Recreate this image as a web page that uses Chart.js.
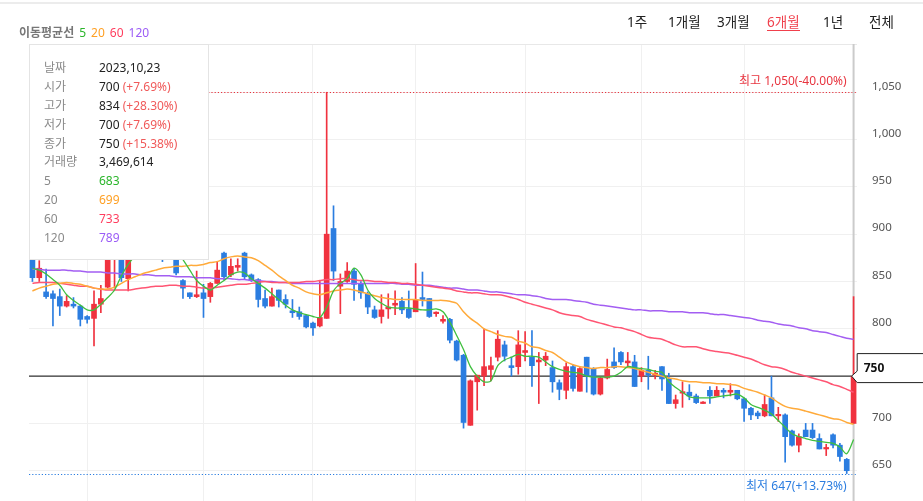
<!DOCTYPE html>
<html lang="ko">
<head>
<meta charset="utf-8">
<title>주가 차트 6개월</title>
<script src="https://cdn.jsdelivr.net/npm/chart.js@4.4.0/dist/chart.umd.min.js"></script>
<style>
  html,body{margin:0;padding:0;background:#fff;}
  body{width:923px;height:501px;overflow:hidden;position:relative;font-family:"Noto Sans","Noto Sans CJK KR",sans-serif;}
  #chart{position:absolute;left:0;top:0;}
  #topLine{position:absolute;left:0;top:2px;width:923px;height:2px;background:#ececec;}
  #maLegend{position:absolute;left:19px;top:24px;font-size:12px;line-height:18px;color:#777;font-weight:bold;white-space:nowrap;}
  #maLegend span{font-weight:normal;margin-left:5px;}
  .period{position:absolute;top:14px;font-size:13.5px;line-height:16px;color:#222;white-space:nowrap;}
  .period.on{color:#f0404c;border-bottom:1px solid #f0404c;}
  #tip{position:absolute;left:29px;top:44px;width:178px;height:200px;border:1px solid #e4e4e4;background:#fff;padding-top:14px;box-sizing:content-box;}
  #tip .row{position:relative;height:18.9px;line-height:18.9px;font-size:12px;white-space:nowrap;}
  #tip .k{position:absolute;left:14px;color:#8a8a8a;}
  #tip .v{position:absolute;left:69px;color:#222;}
  #tip .p{color:#f05a5a;}
</style>
</head>
<body>
<canvas id="chart" width="923" height="501"></canvas>
<div id="topLine"></div>
<div id="maLegend">이동평균선<span style="color:#2bb52b">5</span><span style="color:#ffa024">20</span><span style="color:#ff3d5e">60</span><span style="color:#9b5cf6">120</span></div>
<span class="period" style="left:627px">1주</span>
<span class="period" style="left:668px">1개월</span>
<span class="period" style="left:717px">3개월</span>
<span class="period on" style="left:767px">6개월</span>
<span class="period" style="left:823px">1년</span>
<span class="period" style="left:869px">전체</span>
<div id="tip"></div>
<script>
// trading days shown (6 months)
const tradingDays = [
  ['2023.04', [24,25,26,27,28]],
  ['2023.05', [2,3,4,8,9,10,11,12,15,16,17,18,19,22,23,24,25,26,30,31]],
  ['2023.06', [1,2,5,7,8,9,12,13,14,15,16,19,20,21,22,23,26,27,28,29,30]],
  ['2023.07', [3,4,5,6,7,10,11,12,13,14,17,18,19,20,21,24,25,26,27,28,31]],
  ['2023.08', [1,2,3,4,7,8,9,10,11,14,16,17,18,21,22,23,24,25,28,29,30,31]],
  ['2023.09', [1,4,5,6,7,8,11,12,13,14,15,18,19,20,21,22,25,26,27]],
  ['2023.10', [4,5,6,10,11,12,13,16,17,18,19,20,23]]
];
const gridDates = ['2023.05.08','2023.06.01','2023.06.26','2023.07.17','2023.08.08','2023.09.01','2023.09.22'];
const yTicks = [650,700,750,800,850,900,950,1000,1050];

const opens = [875,854,839,837,834,824,826,824,813,811,826,844,876,885,853,880,885,892,896,895,
  890,880,851,838,834,838,834,848,880,857,865,880,857,852,832,824,841,831,819,818,
  814,806,803,811,906,845,850,861,847,837,820,813,821,825,829,821,818,833,832,816,
  808,810,787,772,698,744,750,757,770,783,761,760,775,770,765,767,759,743,735,760,
  734,770,758,731,748,765,775,764,765,750,756,751,760,747,721,732,733,729,721,735,
  729,735,733,735,726,716,711,708,727,708,709,692,677,693,693,684,673,688,677,662,700];
const highs = [882,872,863,840,842,835,833,825,814,840,846,888,895,890,886,890,898,905,900,898,
  893,884,852,838,861,847,849,871,881,874,874,881,858,853,841,843,841,836,831,823,
  815,807,850,1050,930,858,870,864,850,839,824,836,837,840,833,840,869,860,832,818,
  814,811,788,773,746,751,800,770,798,787,770,798,797,798,775,775,766,746,764,762,
  759,770,759,749,768,780,776,775,772,759,771,756,760,753,730,744,741,731,723,739,
  739,737,742,735,727,717,713,730,750,717,710,693,689,700,700,689,678,689,679,663,834];
const lows = [850,850,832,803,814,823,822,803,806,782,817,843,843,850,840,876,880,886,882,871,
  878,857,832,832,833,812,828,848,852,855,861,852,850,823,822,824,823,822,812,810,
  801,793,802,811,851,816,849,830,832,816,811,806,811,815,816,811,818,824,812,813,
  806,785,766,695,698,714,740,745,766,766,750,752,766,739,721,761,733,725,726,734,
  734,733,730,730,747,758,762,760,739,744,736,747,735,721,716,717,725,721,721,721,
  729,727,729,725,702,704,705,707,708,702,659,676,670,686,684,673,666,674,660,647,700];
const closes = [854,864,834,832,824,829,824,810,810,826,832,880,888,854,880,885,892,896,888,890,
  885,859,843,834,836,832,848,862,855,866,867,855,851,831,824,834,830,826,817,813,
  802,801,812,900,861,850,861,847,838,823,812,820,823,827,820,812,831,831,813,817,
  810,788,767,701,745,751,760,761,789,771,759,783,777,761,767,771,744,736,760,737,
  758,750,731,748,757,759,765,766,739,756,751,753,747,721,725,733,729,722,722,729,
  735,733,735,726,716,709,708,720,708,709,686,677,686,686,685,673,674,677,665,650,750];
const lastVolume = 3469614;

// moving averages
const ma5 = [864,862,858,852,846,836,830,825,820,820,826,833,841,856,868,877,880,881,888,890,
  890,884,873,862,851,845,841,846,851,857,860,859,853,848,843,837,831,825,820,817,
  815,813,812,823,840,848,853,864,857,841,832,827,823,822,822,822,821,820,820,821,
  818,807,793,778,760,750,744,745,761,767,770,773,771,771,770,765,760,757,755,754,
  753,750,749,749,749,750,754,760,759,758,757,755,754,744,738,733,728,727,727,727,
  728,729,730,731,727,720,717,714,710,703,696,689,686,684,682,681,680,679,675,668,683];
const ma20 = [840,843,845,847,848,849,848,847,845,843,842,842,844,848,852,855,858,860,862,864,
  865,866,866,867,867,868,870,871,874,876,877,876,875,872,867,862,856,851,846,843,
  839,837,836,838,840,841,842,841,839,837,835,833,832,831,831,831,831,830,830,830,
  830,829,827,818,811,806,800,797,794,792,791,787,785,781,780,777,775,770,765,762,
  760,759,758,759,759,760,760,759,758,756,754,752,750,748,747,745,744,744,743,743,
  742,742,741,740,737,735,733,730,727,722,718,716,715,713,711,709,707,705,704,701,699];
const ma60 = [848,849,849,849,848,847,846,845,845,843,842,841,841,841,841,842,843,844,845,845,
  846,846,845,845,844,843,843,844,845,846,847,847,848,849,850,849,849,849,849,849,
  850,850,851,852,852,853,853,852,851,851,850,850,849,849,848,848,847,846,845,844,
  843,842,840,839,838,838,837,836,836,835,833,831,828,826,824,822,820,817,815,814,
  813,810,808,806,804,802,801,799,797,794,791,790,789,786,783,781,781,781,779,777,
  776,775,774,772,770,768,765,762,760,759,757,754,752,750,748,746,744,741,739,736,733];
const ma120 = [863,863,862,862,862,862,861,861,860,860,860,859,859,858,858,858,857,857,856,856,
  856,855,855,855,854,854,854,853,853,853,852,852,851,851,850,850,849,849,848,848,
  848,848,848,848,848,848,848,848,848,848,848,848,848,848,847,847,846,846,846,845,
  844,843,843,842,841,841,840,839,839,838,837,836,836,835,834,832,831,831,831,830,
  829,828,826,825,824,823,822,821,820,820,819,819,819,818,818,818,817,817,817,816,
  815,815,814,813,812,811,809,808,807,805,804,803,801,800,798,797,796,794,792,790,789];

const dates = tradingDays.flatMap(([m, ds]) => ds.map(d => m + '.' + String(d).padStart(2, '0')));
const upColor = '#f0323f';
const downColor = '#2b7de0';
const maColors = ['#3fbf3f', '#ffaa3a', '#ff5573', '#a35ef2'];
const candleColors = closes.map((c, i) => c >= opens[i] ? upColor : downColor);
const last = closes.length - 1;

const hiVal = Math.max(...highs);
const loVal = Math.min(...lows);
const fromLast = v => {
  const p = Math.trunc((closes[last] - v) / closes[last] * 10000) / 100;
  return (p > 0 ? '+' : '') + p.toFixed(2) + '%';
};

// crosshair, high/low markers and price tag
const overlay = {
  id: 'overlay',
  beforeDatasetsDraw(chart) {
    const {ctx, chartArea: a, scales: {x, y}} = chart;
    const lx = x.getPixelForValue(last);
    const ly = y.getPixelForValue(closes[last]);
    ctx.save();
    ctx.strokeStyle = '#e8e8e8';
    ctx.lineWidth = 1;
    ctx.beginPath(); ctx.moveTo(a.left, a.top + 0.5); ctx.lineTo(a.right, a.top + 0.5); ctx.stroke();

    ctx.lineWidth = 1.2;
    ctx.setLineDash([1.2, 2]);
    ctx.strokeStyle = '#e8343f';
    const hy = Math.round(y.getPixelForValue(hiVal)) + 0.5;
    ctx.beginPath(); ctx.moveTo(a.left, hy); ctx.lineTo(a.right, hy); ctx.stroke();
    ctx.strokeStyle = '#2b7de0';
    const wy = Math.round(y.getPixelForValue(loVal)) + 0.5;
    ctx.beginPath(); ctx.moveTo(a.left, wy); ctx.lineTo(a.right, wy); ctx.stroke();
    ctx.setLineDash([]);

    ctx.strokeStyle = '#cbcbcb';
    ctx.lineWidth = 2;
    ctx.beginPath(); ctx.moveTo(lx, a.top); ctx.lineTo(lx, a.bottom); ctx.stroke();
    ctx.strokeStyle = '#333';
    ctx.lineWidth = 1.3;
    ctx.beginPath(); ctx.moveTo(a.left, ly); ctx.lineTo(lx, ly); ctx.stroke();
    ctx.restore();
  },
  afterDraw(chart) {
    const {ctx, scales: {x, y}} = chart;
    const lx = x.getPixelForValue(last);
    const ly = y.getPixelForValue(closes[last]);
    ctx.save();
    ctx.font = '12px "Noto Sans", "Noto Sans CJK KR", sans-serif';
    ctx.textAlign = 'right';
    ctx.textBaseline = 'middle';
    ctx.fillStyle = '#e8343f';
    ctx.fillText('최고 ' + hiVal.toLocaleString('en-US') + '(' + fromLast(hiVal) + ')', lx - 7, y.getPixelForValue(hiVal) - 11);
    ctx.fillStyle = '#2b7de0';
    ctx.fillText('최저 ' + loVal.toLocaleString('en-US') + '(' + fromLast(loVal) + ')', lx - 7, y.getPixelForValue(loVal) + 13);

    // price tag
    const bx = lx + 3.6, top = ly - 22.5, bot = ly + 6.5;
    ctx.beginPath();
    ctx.moveTo(bx, top);
    ctx.lineTo(chart.width + 2, top);
    ctx.lineTo(chart.width + 2, bot);
    ctx.lineTo(bx, bot);
    ctx.lineTo(lx - 2, ly);
    ctx.lineTo(bx, ly - 5);
    ctx.closePath();
    ctx.fillStyle = '#fff';
    ctx.fill();
    ctx.strokeStyle = '#222';
    ctx.lineWidth = 1;
    ctx.stroke();
    ctx.fillStyle = '#111';
    ctx.textAlign = 'left';
    ctx.font = 'bold 12px "Noto Sans", sans-serif';
    ctx.fillText(closes[last].toLocaleString('en-US'), bx + 6.5, ly - 8);
    ctx.restore();
  }
};

const maLine = (label, data, color, width) => ({
  type: 'line', label, data, borderColor: color, borderWidth: width,
  pointRadius: 0, tension: 0.3, order: 0
});

new Chart(document.getElementById('chart'), {
  type: 'bar',
  data: {
    labels: dates,
    datasets: [
      maLine('5', ma5, maColors[0], 1.3),
      maLine('20', ma20, maColors[1], 1.5),
      maLine('60', ma60, maColors[2], 1.5),
      maLine('120', ma120, maColors[3], 1.5),
      {label: 'body', data: opens.map((o, i) => [o, closes[i]]), backgroundColor: candleColors,
        barThickness: 5, minBarLength: 1.5, grouped: false, order: 1},
      {label: 'wick', data: lows.map((l, i) => [l, highs[i]]), backgroundColor: candleColors,
        barThickness: 1, grouped: false, order: 2}
    ]
  },
  options: {
    responsive: false,
    animation: false,
    events: [],
    layout: {padding: {left: 29, top: 44, right: 0, bottom: 0}},
    plugins: {legend: {display: false}, tooltip: {enabled: false}},
    scales: {
      x: {
        offset: true,
        afterFit: s => { s.height = 0; s.paddingLeft = 0; s.paddingRight = 0; },
        ticks: {display: false, autoSkip: false},
        grid: {offset: false, drawTicks: false,
          color: c => gridDates.includes(dates[c.index]) ? '#f0f0f0' : 'rgba(0,0,0,0)'},
        border: {display: false}
      },
      y: {
        position: 'right',
        min: 618, max: 1101,
        afterBuildTicks: s => { s.ticks = yTicks.map(v => ({value: v})); },
        afterFit: s => { s.width = 66; s.paddingTop = 0; s.paddingBottom = 0; },
        grid: {color: '#f0f0f0', drawTicks: false},
        border: {display: false},
        ticks: {padding: 15, labelOffset: -6, color: '#555',
          font: {family: '"Noto Sans", sans-serif', size: 11.5},
          callback: v => v.toLocaleString('en-US')}
      }
    }
  },
  plugins: [overlay]
});

// info box for the latest candle
const prevClose = closes[last - 1];
const pct = v => {
  const p = Math.trunc((v - prevClose) / prevClose * 10000) / 100;
  return '(' + (p >= 0 ? '+' : '') + p.toFixed(2) + '%)';
};
const rows = [
  ['날짜', dates[last].replace(/\./g, ',')],
  ['시가', opens[last], pct(opens[last])],
  ['고가', highs[last], pct(highs[last])],
  ['저가', lows[last], pct(lows[last])],
  ['종가', closes[last], pct(closes[last])],
  ['거래량', lastVolume.toLocaleString('en-US')],
  ['5', ma5[last], null, '#2bb52b'],
  ['20', ma20[last], null, '#ffa024'],
  ['60', ma60[last], null, '#ff3d5e'],
  ['120', ma120[last], null, '#9b5cf6']
];
document.getElementById('tip').innerHTML = rows.map(([k, v, p, col]) =>
  `<div class="row"><span class="k">${k}</span><span class="v"${col ? ` style="color:${col}"` : ''}>${v}${p ? ` <span class="p">${p}</span>` : ''}</span></div>`
).join('');
</script>
</body>
</html>
